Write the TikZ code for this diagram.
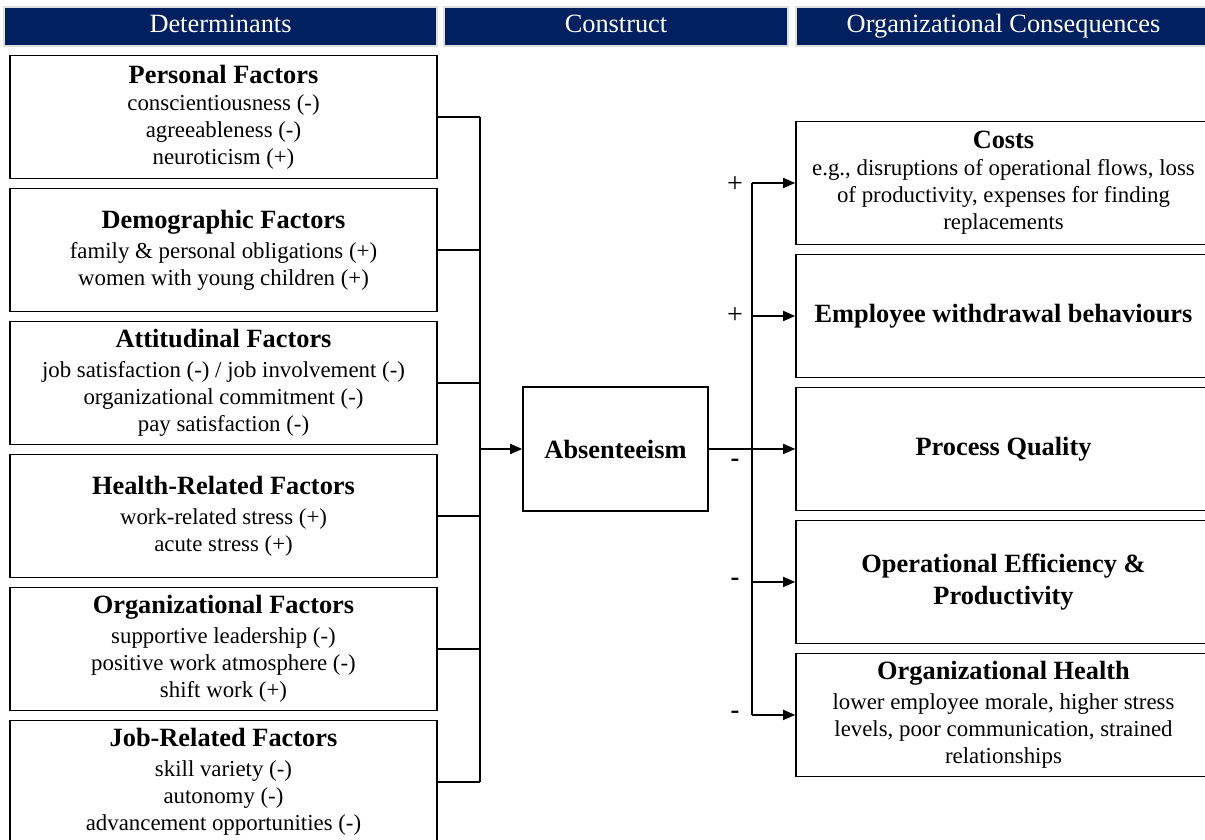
\documentclass[tikz,border=0pt]{standalone}
\usepackage{fontspec}
\setmainfont{Liberation Serif}
\usepackage{xcolor}
\usetikzlibrary{calc}
\usetikzlibrary{positioning, arrows.meta}
\definecolor{headblue}{RGB}{0,32,96}
\newcommand{\boxtitle}[1]{{\fontsize{15}{18}\selectfont\bfseries #1}}

\begin{document}
\begin{tikzpicture}[
    head/.style={fill=headblue, draw=gray!25, line width=0.6pt, text=white, minimum height=0.78cm, inner sep=0pt, text height=2.1ex, text depth=0.7ex, font=\fontsize{15}{18}\selectfont},
    factor/.style={draw, line width=0.9pt, minimum width=8.54cm, minimum height=2.46cm, inner sep=0pt, align=center, font=\fontsize{13}{15.3}\selectfont},
    result/.style={factor, minimum width=8.3cm},
    link/.style={line width=0.9pt},
    arr/.style={link, -{Triangle[length=2.4mm, width=2mm]}},
    sign/.style={inner sep=0pt, font=\fontsize{16}{18}\selectfont},
    node distance=0.168cm]
                    \useasboundingbox (0,0) rectangle (24.1,-16.8);
                    \clip (0,0) rectangle (24.1,-16.8);
                    % column heads
                    \node [head, minimum width=8.66cm] (hdet) at (4.41,-0.53) {Determinants};
                    \node [head, minimum width=6.88cm] (hcon) at (12.32,-0.53) {Construct};
                    \node [head, minimum width=8.3cm] (hcons) at (20.07,-0.53) {Organizational Consequences};
                    % determinants
                    \node [factor] (personal) at (4.47,-2.34) {\boxtitle{Personal Factors}\\ conscientiousness (-)\\ agreeableness (-)\\ neuroticism (+)};
                    \node [factor, below=of personal] (demographic) {\boxtitle{Demographic Factors}\\[2pt] family \& personal obligations (+)\\ women with young children (+)};
                    \node [factor, below=of demographic] (attitudinal) {\boxtitle{Attitudinal Factors}\\[2pt] job satisfaction (-) / job involvement (-)\\ organizational commitment (-)\\ pay satisfaction (-)};
                    \node [factor, below=of attitudinal] (health) {\boxtitle{Health-Related Factors}\\[2pt] work-related stress (+)\\ acute stress (+)};
                    \node [factor, below=of health] (orgfactors) {\boxtitle{Organizational Factors}\\[2pt] supportive leadership (-)\\ positive work atmosphere (-)\\ shift work (+)};
                    \node [factor, below=of orgfactors] (jobfactors) {\boxtitle{Job-Related Factors}\\[2pt] skill variety (-)\\ autonomy (-)\\ advancement opportunities (-)};
                    % construct
                    \node [factor, minimum width=3.7cm, minimum height=2.48cm] (absent) at (12.31,-8.98) {\boxtitle{Absenteeism}};
                    % consequences
                    \node [result] (costs) at (20.07,-3.66) {\boxtitle{Costs}\\ e.g., disruptions of operational flows, loss\\ of productivity, expenses for finding\\ replacements};
                    \node [result, below=of costs] (withdrawal) {\boxtitle{Employee withdrawal behaviours}};
                    \node [result, below=of withdrawal] (quality) {\boxtitle{Process Quality}};
                    \node [result, below=of quality] (efficiency) {\boxtitle{Operational Efficiency \&}\\[3pt] \boxtitle{Productivity}};
                    \node [result, below=of efficiency] (orghealth) {\boxtitle{Organizational Health}\\[2pt] lower employee morale, higher stress\\ levels, poor communication, strained\\ relationships};
                    % buses
                    \coordinate (lbus) at (9.6,0);
                    \coordinate (rbus) at (15.04,0);
                    \foreach \n in {personal, demographic, attitudinal, health, orgfactors, jobfactors}
                        \draw [link] (\n.east) -- (\n.east -| lbus);
                    \draw [link] (personal.east -| lbus) -- (jobfactors.east -| lbus);
                    \draw [arr] (absent.west -| lbus) -- (absent.west);
                    \draw [link] (absent.east) -- (absent.east -| rbus);
                    \draw [link] (costs.west -| rbus) -- (orghealth.west -| rbus);
                    \foreach \n in {costs, withdrawal, quality, efficiency, orghealth}
                        \draw [arr] (\n.west -| rbus) -- (\n.west);
                    % signs
                    \node [sign] (splus1) at ($(costs.west -| rbus)+(-0.34,-0.03)$) {+};
                    \node [sign] (splus2) at ($(withdrawal.west -| rbus)+(-0.34,0)$) {+};
                    \node [sign, font=\fontsize{15}{18}\selectfont\bfseries] (sminus1) at ($(quality.west -| rbus)+(-0.34,-0.28)$) {-};
                    \node [sign, font=\fontsize{15}{18}\selectfont\bfseries] (sminus2) at ($(efficiency.west -| rbus)+(-0.34,0)$) {-};
                    \node [sign, font=\fontsize{15}{18}\selectfont\bfseries] (sminus3) at ($(orghealth.west -| rbus)+(-0.34,0)$) {-};
                \end{tikzpicture}
\end{document}
